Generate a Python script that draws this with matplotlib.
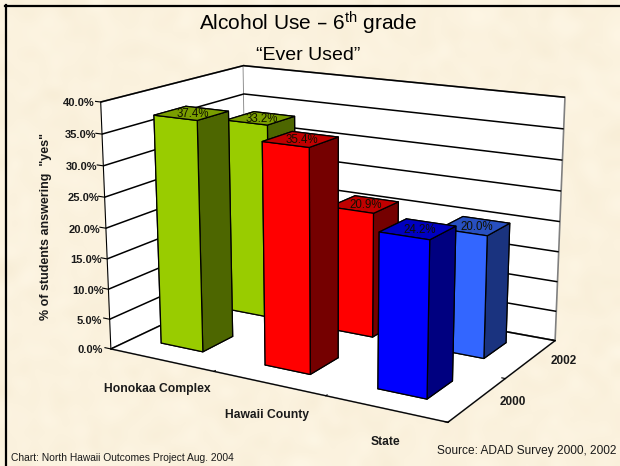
import numpy as np
import matplotlib
matplotlib.use("Agg")
import matplotlib.pyplot as plt
from matplotlib.lines import Line2D

plt.rcParams['font.family'] = ['Liberation Sans', 'DejaVu Sans']
plt.rcParams['mathtext.default'] = 'regular'

categories = ["Honokaa Complex", "Hawaii County", "State"]
years = ["2000", "2002"]
pct_2000 = [37.4, 35.4, 24.2]
pct_2002 = [33.2, 20.9, 20.0]
z_ticks = [0, 5, 10, 15, 20, 25, 30, 35, 40]

# face colours per bar: (front, top, side)
colors_2000 = [("#99CC00", "#7A9E00", "#4D6600"), ("#FF0000", "#C00000", "#750000"), ("#0000FF", "#0000C0", "#000080")]
colors_2002 = [("#99CC00", "#7A9E00", "#4D6600"), ("#FF0000", "#C00000", "#750000"), ("#3366FF", "#2850C0", "#1A337F")]

W, H = 620, 466
TEXT = "#1a1a1a"
fig = plt.figure(figsize=(W / 100, H / 100), dpi=100, facecolor="#FBF2DE")

# parchment backdrop, decoration only
bg = fig.add_axes([0, 0, 1, 1])
bg.set_axis_off()
rng = np.random.default_rng(3)
mottle = rng.normal(size=(47, 62)) * 2.2
paper = np.array([251, 242, 222])[None, None, :] + mottle[:, :, None] * np.array([0.7, 1.0, 1.6])
bg.imshow(np.clip(paper, 0, 255) / 255, aspect='auto', interpolation='bicubic')

# camera and box were fitted to the corners of the walls and floor
ax = fig.add_axes([0.1539, 0.0039, H / W, 1], projection='3d', computed_zorder=False)
ax.patch.set_alpha(0)
ax.set_xlim(0, 3, view_margin=0)
ax.set_ylim(0, 2, view_margin=0)
ax.set_zlim(0, 40, view_margin=0)
ax.view_init(15.315, -59.773)
ax.set_proj_type('persp', focal_length=0.604)
ax.set_box_aspect((391.102, 257.755, 261.676), zoom=1.085)

for axis in (ax.xaxis, ax.yaxis, ax.zaxis):
    axis.set_pane_color("white")
    axis.pane.set_edgecolor("#808080")
    axis.pane.set_linewidth(1.2)
    axis.line.set_color("black")
    axis._axinfo['tick'].update(inward_factor=0, outward_factor=0.12, linewidth={True: 0.8, False: 0.5})
ax.zaxis._axinfo['tick'].update(outward_factor=0)
ax.xaxis._axinfo['grid'].update(color=(1, 1, 1, 0), linewidth=0)
ax.yaxis._axinfo['grid'].update(color=(1, 1, 1, 0), linewidth=0)
ax.zaxis._axinfo['grid'].update(color="black", linewidth=1.1, linestyle='-')
ax.zaxis.set_ticks_position('lower')

ax.set_xticks([0, 1, 2, 3], labels=[])
ax.set_yticks([0, 1, 2], labels=[])
ax.set_zticks(z_ticks, labels=[f"{v:.1f}%" for v in z_ticks], fontweight='bold', fontsize=8,
              va='center_baseline', color=TEXT)
ax.tick_params(axis='z', pad=0)
for v in z_ticks:
    ax.plot([-0.06, 0], [0, 0], [v, v], color="black", linewidth=0.8, zorder=0)

bar_w, bar_d = 0.41, 0.43
order = 1
for row, (vals, cols) in reversed(list(enumerate([(pct_2000, colors_2000), (pct_2002, colors_2002)]))):
    for i, v in enumerate(vals):
        front, top, side = cols[i]
        ax.bar3d(i + 0.265, row + 0.32, 0, bar_w, bar_d, v,
                 color=[front, top, front, front, side, side], edgecolor="black", linewidth=0.9,
                 shade=False, zorder=order)
        order += 1
        ax.text(i + 0.49, row + 0.52, v, f"{v:.1f}%", ha='center', va='center', fontsize=8.3,
                color="#101000", zorder=100)

label_x = [0.85, 1.82, 2.785]
for x, name in zip(label_x, categories):
    ax.text(x, -0.53, 0, name, ha='center', va='center', fontsize=8.7, fontweight='bold', color=TEXT)
for j, yr in enumerate(years):
    ax.text(3.24, j + 0.587, 0, yr, ha='center', va='center', fontsize=8.5, fontweight='bold', color=TEXT)

fig.text(308 / W, 1 - 23 / H, "Alcohol Use \u2013 6$^{th}$ grade", ha='center', va='center', fontsize=15)
fig.text(308 / W, 1 - 55 / H, "\u201cEver Used\u201d", ha='center', va='center', fontsize=14)
fig.text(46 / W, 1 - 226 / H, "% of students answering  \"yes\"", rotation=90, ha='center', va='center',
         fontsize=9, fontweight='bold', color=TEXT)
fig.text(437 / W, 1 - 451 / H, "Source: ADAD Survey 2000, 2002", ha='left', va='center', fontsize=8.6, color=TEXT)
fig.text(11 / W, 1 - 458 / H, "Chart: North Hawaii Outcomes Project Aug. 2004", ha='left', va='center',
         fontsize=7.4, color=TEXT)

fig.add_artist(Line2D([6 / W, 6 / W], [0, 1 - 5 / H], color="black", linewidth=1.6))
fig.add_artist(Line2D([5 / W, 1], [1 - 6 / H, 1 - 6 / H], color="black", linewidth=1.6))

fig.savefig("out.png", dpi=100)
